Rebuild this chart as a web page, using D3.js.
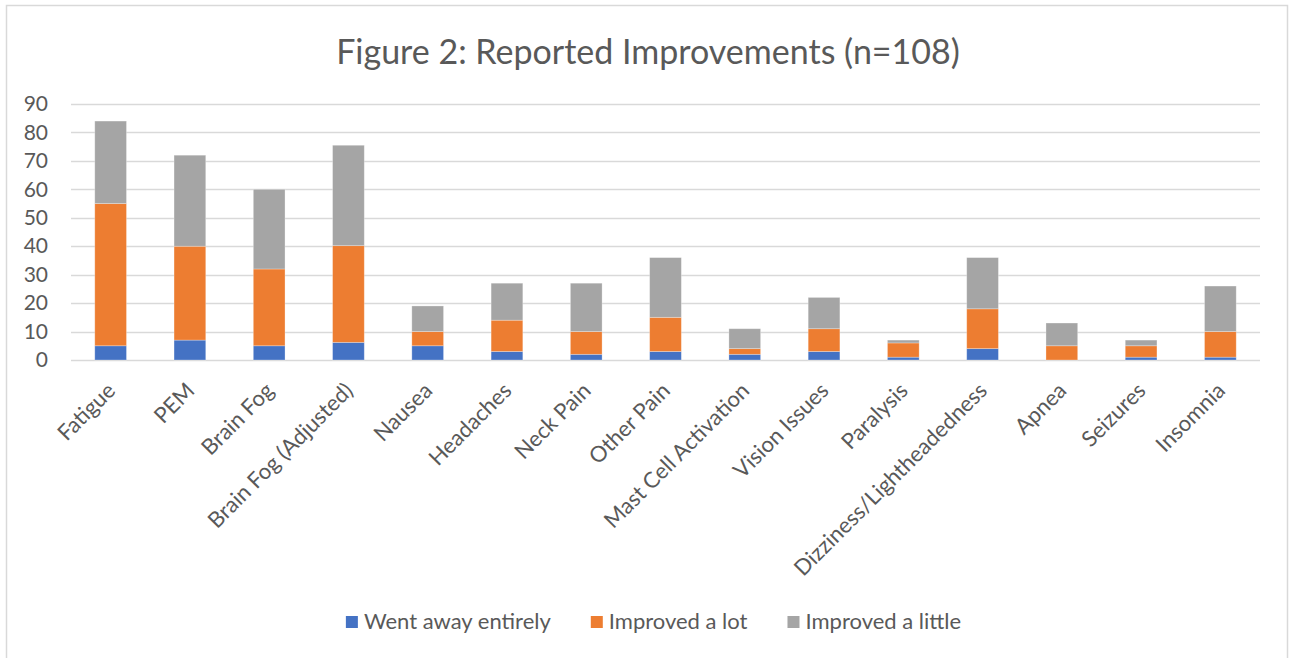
<!DOCTYPE html>
<html>
<head>
<meta charset="utf-8">
<script src="https://cdn.jsdelivr.net/npm/d3@7"></script>
<style>
  html, body { margin: 0; padding: 0; background: #fff; }
  svg { display: block; font-family: Lato, "Open Sans", sans-serif; }
</style>
</head>
<body>
<svg id="chart" width="1289" height="658"></svg>
<script>
const categories = ["Fatigue", "PEM", "Brain Fog", "Brain Fog (Adjusted)", "Nausea", "Headaches", "Neck Pain", "Other Pain", "Mast Cell Activation", "Vision Issues", "Paralysis", "Dizziness/Lightheadedness", "Apnea", "Seizures", "Insomnia"];
const seriesNames = ["Went away entirely", "Improved a lot", "Improved a little"];
const wentAway = [5, 7, 5, 6.2, 5, 3, 2, 3, 2, 3, 1, 4, 0, 1, 1];
const improvedLot = [50, 33, 27, 34, 5, 11, 8, 12, 2, 8, 5, 14, 5, 4, 9];
const improvedLittle = [29, 32, 28, 35.3, 9, 13, 17, 21, 7, 11, 1, 18, 8, 2, 16];
const yTicks = [0, 10, 20, 30, 40, 50, 60, 70, 80, 90];
const titleText = "Figure 2: Reported Improvements (n=108)";

const colors = ["#4472C4", "#ED7D31", "#A5A5A5"];
const textColor = "#595959";

const svg = d3.select("#chart");
const W = 1289, H = 658;

// outer chart border
svg.append("rect").attr("x", 6.5).attr("y", 5.5).attr("width", W - 8).attr("height", H - 4)
  .attr("fill", "#fff").attr("stroke", "#d9d9d9").attr("stroke-width", 1.5);

const plot = { left: 71, right: 1260, top: 104, bottom: 360 };

const x = d3.scaleBand().domain(categories).range([plot.left, plot.right]).paddingInner(0.6).paddingOuter(0.3);
const y = d3.scaleLinear().domain([0, 90]).range([plot.bottom, plot.top]);

// gridlines
svg.append("g").selectAll("line").data(yTicks).join("line")
  .attr("x1", plot.left).attr("x2", plot.right)
  .attr("y1", d => Math.round(y(d)) + 0.5).attr("y2", d => Math.round(y(d)) + 0.5)
  .attr("stroke", "#d9d9d9").attr("stroke-width", 1.3);

// y axis labels
const yAxis = d3.axisLeft(y).tickValues(yTicks).tickSize(0).tickPadding(0);
const yg = svg.append("g").attr("transform", `translate(48,0)`).call(yAxis);
yg.select(".domain").remove();
yg.selectAll("text").attr("fill", textColor).attr("font-size", 21).attr("font-family", "Lato, sans-serif");

// stacked data
const table = categories.map((c, i) => ({ cat: c, s0: wentAway[i], s1: improvedLot[i], s2: improvedLittle[i] }));
const stack = d3.stack().keys(["s0", "s1", "s2"])(table);

svg.append("g").selectAll("g").data(stack).join("g")
  .attr("fill", (d, i) => colors[i])
  .selectAll("rect").data(d => d).join("rect")
  .attr("x", d => x(d.data.cat))
  .attr("width", x.bandwidth())
  .attr("y", d => y(d[1]))
  .attr("height", d => Math.max(0, y(d[0]) - y(d[1])))
  .attr("stroke", "#ffffff").attr("stroke-opacity", 0.35).attr("stroke-width", 0.8);

// x axis labels
const xAxis = d3.axisBottom(x).tickSize(0).tickPadding(0);
const xg = svg.append("g").attr("transform", `translate(0,${plot.bottom})`).call(xAxis);
xg.select(".domain").remove();
xg.selectAll("text")
  .attr("fill", textColor).attr("font-size", 22).attr("font-family", "Lato, sans-serif")
  .attr("text-anchor", "end")
  .attr("dy", null)
  .attr("transform", "translate(6,32) rotate(-45)");

// title
svg.append("text").attr("x", 648).attr("y", 64).attr("text-anchor", "middle")
  .attr("fill", textColor).attr("font-size", 34).text(titleText);

// legend
const lg = svg.append("g");
let cx = 0;
seriesNames.forEach((name, i) => {
  const g = lg.append("g").attr("transform", `translate(${cx},0)`);
  g.append("rect").attr("x", 0).attr("y", -12).attr("width", 12).attr("height", 12).attr("fill", colors[i]);
  const t = g.append("text").attr("x", 18).attr("y", 1).attr("fill", textColor).attr("font-size", 22).text(name);
  cx += 18 + t.node().getComputedTextLength() + 40;
});
const total = cx - 40;
lg.attr("transform", `translate(${653.5 - total / 2},628)`);
</script>
</body>
</html>
